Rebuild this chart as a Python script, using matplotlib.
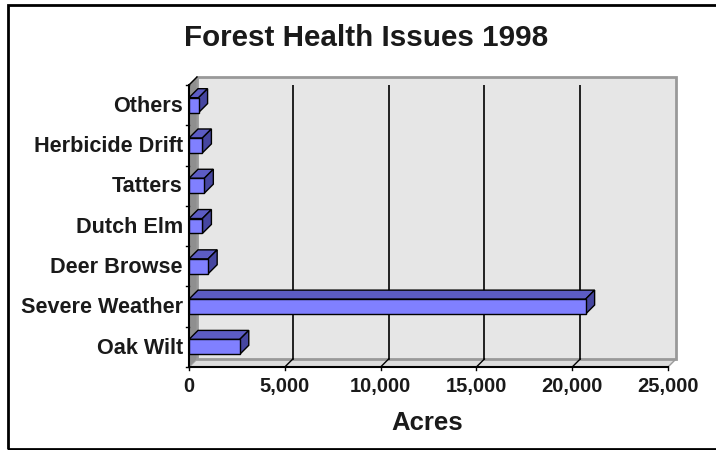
import numpy as np
import matplotlib.pyplot as plt
from matplotlib.patches import Polygon, Rectangle

# data
categories = ['Oak Wilt', 'Severe Weather', 'Deer Browse', 'Dutch Elm',
              'Tatters', 'Herbicide Drift', 'Others']
acres = [2650, 20700, 1000, 700, 800, 700, 500]
xticks = [0, 5000, 10000, 15000, 20000, 25000]

plt.rcParams['font.family'] = ['Liberation Sans', 'DejaVu Sans']
txt = '#1a1a1a'

W, H = 716, 450
fig = plt.figure(figsize=(W / 100, H / 100), dpi=100)

# front plane of the 3d box in pixels
x0, x1, ytop, ybot = 189, 668, 85, 367
ax = fig.add_axes([x0 / W, 1 - ybot / H, (x1 - x0) / W, (ybot - ytop) / H])
xmax = 25000
ymin, ymax = -0.5, len(categories) - 0.5
ax.set_xlim(0, xmax)
ax.set_ylim(ymin, ymax)
ax.axis('off')

# pixel -> data offsets for depth
px = xmax / (x1 - x0)
py = (ymax - ymin) / (ybot - ytop)
wdx, wdy = 8 * px, 8 * py      # wall depth
bdx, bdy = 9 * px, 9 * py      # bar depth


def poly(pts, fc, ec, lw=1.0, z=1):
    ax.add_patch(Polygon(pts, closed=True, facecolor=fc, edgecolor=ec,
                         linewidth=lw, zorder=z, clip_on=False))


# left side wall
poly([(0, ymin), (0, ymax), (wdx, ymax + wdy), (wdx, ymin + wdy)], '#8f8f8f', '#707070', 0.8)
# floor
poly([(0, ymin), (xmax, ymin), (xmax + wdx, ymin + wdy), (wdx, ymin + wdy)], '#dcdcdc', '#9a9a9a', 1.0)
# back wall
poly([(wdx, ymin + wdy), (xmax + wdx, ymin + wdy), (xmax + wdx, ymax + wdy), (wdx, ymax + wdy)],
     '#e6e6e6', '#999999', 2.0)

# gridlines on back wall and floor
for t in xticks[1:-1]:
    ax.plot([t + wdx, t + wdx], [ymin + wdy, ymax + wdy], color='black', lw=1.2, zorder=2)
    ax.plot([t, t + wdx], [ymin, ymin + wdy], color='black', lw=1.0, zorder=2, clip_on=False)

# front axis lines
ax.plot([0, xmax], [ymin, ymin], color='black', lw=1.5, zorder=3, clip_on=False)
ax.plot([0, 0], [ymin, ymax], color='black', lw=1.5, zorder=3, clip_on=False)
ax.plot([0, wdx], [ymax, ymax + wdy], color='black', lw=1.0, zorder=3, clip_on=False)

# tick marks
for b in np.arange(ymin, ymax + 0.01, 1.0):
    ax.plot([-3 * px, 0], [b, b], color='black', lw=1.0, zorder=3, clip_on=False)
for t in xticks:
    ax.plot([t, t], [ymin, ymin - 3 * py], color='black', lw=1.0, zorder=3, clip_on=False)

# bars
bh = 0.37
for i, v in enumerate(acres):
    lo, hi = i - bh / 2, i + bh / 2
    # top face
    poly([(0, hi), (v, hi), (v + bdx, hi + bdy), (bdx, hi + bdy)], '#5c5cc4', 'black', 1.0, 5)
    # side face
    poly([(v, lo), (v + bdx, lo + bdy), (v + bdx, hi + bdy), (v, hi)], '#4646a0', 'black', 1.0, 5)
    # front face
    poly([(0, lo), (v, lo), (v, hi), (0, hi)], '#8080ff', 'black', 1.0, 6)

# labels
for i, c in enumerate(categories):
    ax.text(-6 * px, i - 0.03, c, ha='right', va='center', fontsize=15.6, fontweight='bold', color=txt)
for t in xticks:
    ax.text(t, ymin - 10 * py, f'{t:,}', ha='center', va='top', fontsize=14.5,
            fontweight='bold', color=txt)

fig.text(427 / W, 1 - 423 / H, 'Acres', ha='center', va='center', fontsize=18.5,
         fontweight='bold', color=txt)
fig.text(366 / W, 1 - 38 / H, 'Forest Health Issues 1998', ha='center', va='center',
         fontsize=21.3, fontweight='bold', color=txt)

# outer chart border
fig.patches.append(Rectangle((8 / W, 1 - 449 / H), 1.0, 444 / H, transform=fig.transFigure,
                             fill=False, edgecolor='black', linewidth=2.0))

fig.savefig('out.png', dpi=100)
